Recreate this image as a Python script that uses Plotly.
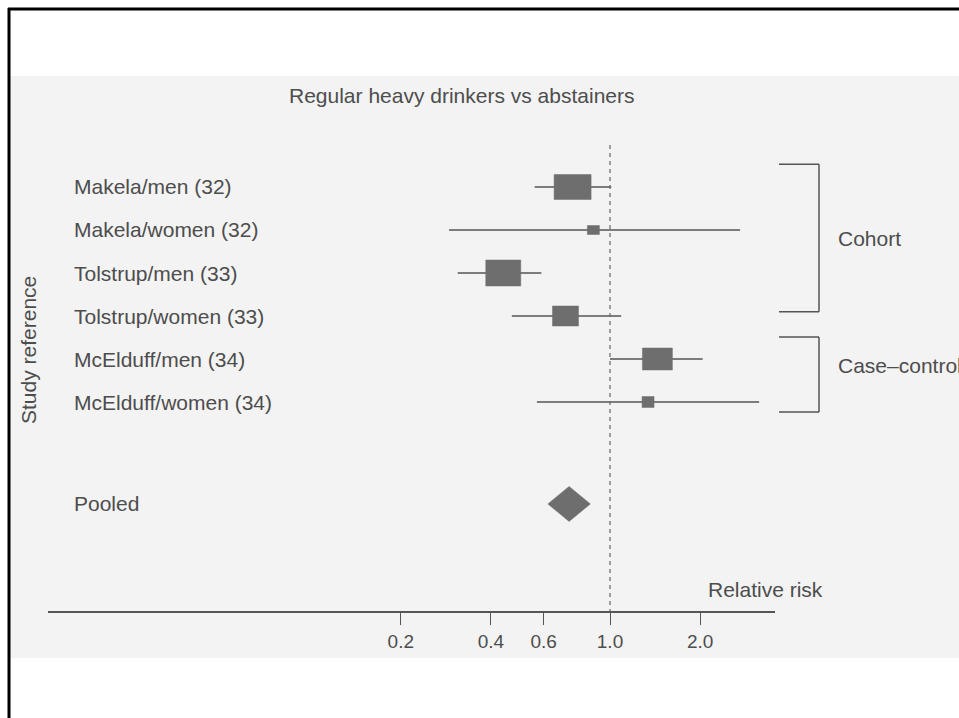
import numpy as np
import plotly.graph_objects as go

# ---- data ----
studies = ["Makela/men (32)", "Makela/women (32)", "Tolstrup/men (33)",
           "Tolstrup/women (33)", "McElduff/men (34)", "McElduff/women (34)"]
rr = [0.75, 0.88, 0.44, 0.71, 1.44, 1.34]
rr_low = [0.56, 0.29, 0.31, 0.47, 1.00, 0.57]
rr_high = [1.01, 2.72, 0.59, 1.09, 2.04, 3.15]
pooled_label = "Pooled"
pooled_rr, pooled_low, pooled_high = 0.73, 0.62, 0.86
tick_vals = [0.2, 0.4, 0.6, 1.0, 2.0]
tick_text = ["0.2", "0.4", "0.6", "1.0", "2.0"]
groups = ["Cohort", "Case\u2013control"]

# ---- styles / layout helpers ----
W, H = 959, 718
PX_PER_LN = 130.0          # pixels per natural-log unit
X_ONE = 610.0              # pixel x of RR = 1
ROW0, ROW_STEP = 187.0, 43.0
PLOT_TOP, PLOT_BOT = 76.0, 611.0
AX_L, AX_R = 48.0, 775.0
box_w_px = [37, 12, 35, 26, 30, 12]
box_h_px = [25, 9, 26, 20, 22, 11]
pooled_row = 7.37
diamond_h_px = 35
TXT = "#4d4d4d"
LINE = "#555555"
BOX = "#6e6e6e"
FONT = "Liberation Sans, Arial, sans-serif"

rows = list(range(len(studies)))
ln = np.log

fig = go.Figure()

# CI lines
for i in rows:
    fig.add_trace(go.Scatter(x=[ln(rr_low[i]), ln(rr_high[i])], y=[i, i], mode="lines",
                             line=dict(color=LINE, width=1.6), hoverinfo="skip", showlegend=False))
# boxes
for i in rows:
    hw = box_w_px[i] / 2 / PX_PER_LN
    hh = box_h_px[i] / 2 / ROW_STEP
    c = ln(rr[i])
    fig.add_trace(go.Scatter(x=[c - hw, c + hw, c + hw, c - hw, c - hw],
                             y=[i - hh, i - hh, i + hh, i + hh, i - hh],
                             mode="lines", fill="toself", fillcolor=BOX,
                             line=dict(color=BOX, width=0.5), hoverinfo="skip", showlegend=False))
# pooled diamond
dh = diamond_h_px / 2 / ROW_STEP
fig.add_trace(go.Scatter(x=[ln(pooled_low), ln(pooled_rr), ln(pooled_high), ln(pooled_rr), ln(pooled_low)],
                         y=[pooled_row, pooled_row - dh, pooled_row, pooled_row + dh, pooled_row],
                         mode="lines", fill="toself", fillcolor=BOX,
                         line=dict(color=BOX, width=0.5), hoverinfo="skip", showlegend=False))

# reference line at RR = 1
y_top_ref = (145 - ROW0) / ROW_STEP
y_bot_ref = (PLOT_BOT - ROW0) / ROW_STEP
fig.add_trace(go.Scatter(x=[ln(1.0), ln(1.0)], y=[y_top_ref, y_bot_ref], mode="lines",
                         line=dict(color="#666666", width=1.2, dash="4px,4px"),
                         hoverinfo="skip", showlegend=False))

x_range = [(AX_L - X_ONE) / PX_PER_LN, (AX_R - X_ONE) / PX_PER_LN]
y_range = [(PLOT_BOT - ROW0) / ROW_STEP, (PLOT_TOP - ROW0) / ROW_STEP]

def px(x):
    return x / W

def py(y):
    return 1 - y / H

annotations = []
for i, s in enumerate(studies):
    annotations.append(dict(x=px(72), y=i, xref="paper", yref="y", text=s, showarrow=False,
                            xanchor="left", yanchor="middle", font=dict(size=21, color=TXT, family=FONT)))
annotations.append(dict(x=px(72), y=pooled_row, xref="paper", yref="y", text=pooled_label,
                        showarrow=False, xanchor="left", yanchor="middle",
                        font=dict(size=21, color=TXT, family=FONT)))
annotations.append(dict(x=px(28), y=py(350), xref="paper", yref="paper", text="Study reference",
                        textangle=-90, showarrow=False, xanchor="center", yanchor="middle",
                        font=dict(size=21, color=TXT, family=FONT)))
annotations.append(dict(x=px(462), y=py(95), xref="paper", yref="paper",
                        text="Regular heavy drinkers vs abstainers", showarrow=False,
                        xanchor="center", yanchor="middle", font=dict(size=21, color=TXT, family=FONT)))
annotations.append(dict(x=px(825), y=py(589), xref="paper", yref="paper", text="Relative risk",
                        showarrow=False, xanchor="right", yanchor="middle",
                        font=dict(size=21, color=TXT, family=FONT)))
annotations.append(dict(x=px(836), y=1.2, xref="paper", yref="y", text=groups[0], showarrow=False,
                        xanchor="left", yanchor="middle", font=dict(size=21, color=TXT, family=FONT)))
annotations.append(dict(x=px(836), y=4.15, xref="paper", yref="y", text=groups[1], showarrow=False,
                        xanchor="left", yanchor="middle", font=dict(size=21, color=TXT, family=FONT)))

shapes = [
    # scanned page background
    dict(type="rect", xref="paper", yref="paper", x0=px(10), x1=1, y0=py(658), y1=py(76),
         fillcolor="#f3f3f3", line=dict(width=0), layer="below"),
    # frame
    dict(type="line", xref="paper", yref="paper", x0=px(8), x1=1, y0=py(9), y1=py(9),
         line=dict(color="black", width=3)),
    dict(type="line", xref="paper", yref="paper", x0=px(9), x1=px(9), y0=py(8), y1=0,
         line=dict(color="black", width=3)),
]
# brackets
for top, bot in [(-0.53, 2.9), (3.49, 5.23)]:
    for yy in (top, bot):
        shapes.append(dict(type="line", xref="paper", yref="y", x0=px(779), x1=px(819), y0=yy, y1=yy,
                           line=dict(color=LINE, width=1.5)))
    shapes.append(dict(type="line", xref="paper", yref="y", x0=px(819), x1=px(819), y0=top, y1=bot,
                       line=dict(color=LINE, width=1.5)))

fig.update_layout(
    width=W, height=H, margin=dict(l=0, r=0, t=0, b=0),
    paper_bgcolor="white", plot_bgcolor="rgba(0,0,0,0)",
    showlegend=False, annotations=annotations, shapes=shapes,
    xaxis=dict(domain=[px(AX_L), px(AX_R)], range=x_range, showgrid=False, zeroline=False,
               showline=True, linecolor=LINE, linewidth=1.5,
               tickvals=[ln(v) for v in tick_vals], ticktext=tick_text,
               ticks="outside", ticklen=12, tickcolor=LINE, tickwidth=1,
               ticklabelstandoff=0,
               tickfont=dict(size=19, color=TXT, family=FONT)),
    yaxis=dict(domain=[py(PLOT_BOT), py(PLOT_TOP)], range=y_range, showgrid=False, zeroline=False,
               showline=False, showticklabels=False, ticks=""),
)

fig.write_html("out.html", config={"displayModeBar": False},
               post_script="document.body.style.margin='0px';document.body.style.overflow='hidden';")
